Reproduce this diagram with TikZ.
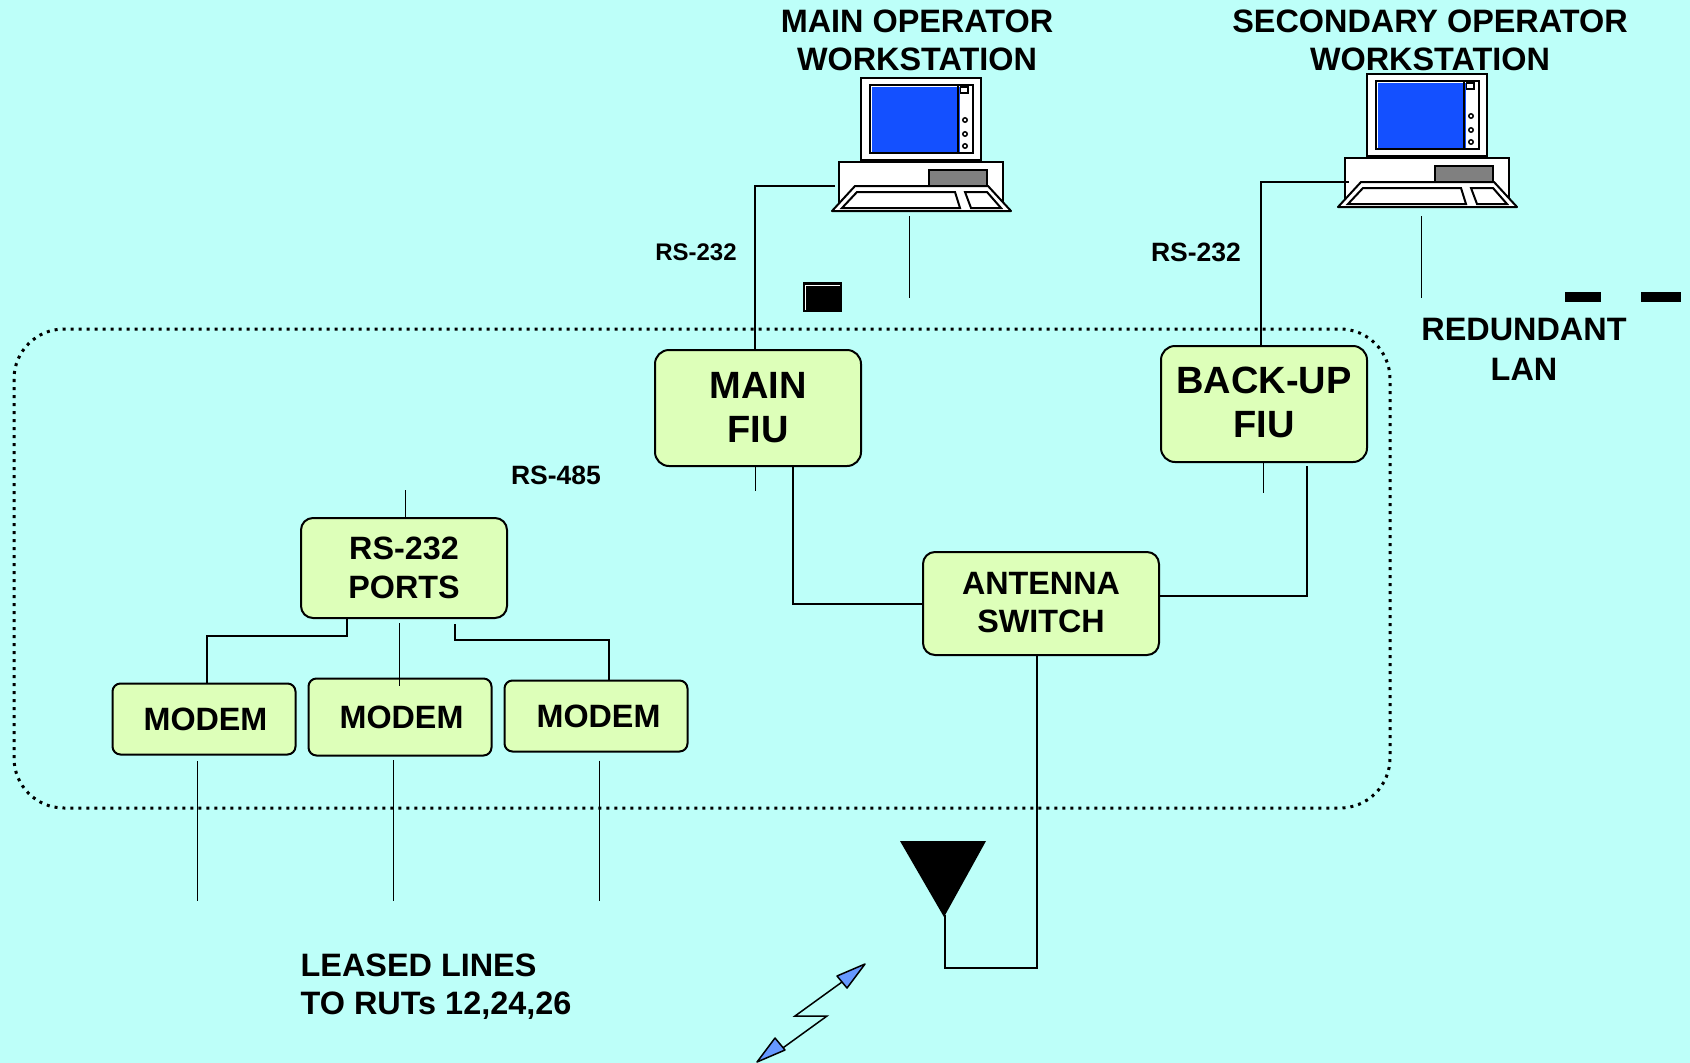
\documentclass[tikz,border=0pt]{standalone}
\usepackage{fontspec}
\setmainfont{Liberation Sans}

\definecolor{pagecol}{HTML}{BDFFF9}
\definecolor{boxcol}{HTML}{DDFFB9}
\definecolor{screencol}{HTML}{1450FF}
\definecolor{boltcol}{HTML}{6699FF}

\tikzset{
    bigbox/.style={draw, line width=2pt, fill=boxcol, rounded corners=14pt, align=center, inner sep=0pt,
        font=\fontsize{38}{44}\selectfont\bfseries},
    midbox/.style={draw, line width=2pt, fill=boxcol, rounded corners=12pt, align=center, inner sep=0pt,
        font=\fontsize{32.3}{38}\selectfont\bfseries},
    modembox/.style={midbox, rounded corners=8pt, minimum width=183pt},
    caption/.style={align=center, inner sep=0pt, font=\fontsize{32.4}{38}\selectfont\bfseries},
    portlabel/.style={inner sep=0pt, font=\fontsize{24}{28}\selectfont\bfseries},
    widelabel/.style={inner sep=0pt, font=\fontsize{26.5}{30}\selectfont\bfseries},
    link/.style={line width=2pt},
    stub/.style={line width=1pt},
    workstation/.pic={
        % Monitor
        \draw[line width=2pt, fill=white] (0,0) rectangle (120,82);
        \fill (8,6) rectangle (113,76);
        \fill[white] (10,8) rectangle (111,74);
        \fill[screencol] (11,9) rectangle (99,74);
        \fill (95.5,8) rectangle (97.5,74);
        \fill[white] (99,9) rectangle (110,74);
        \draw[line width=1.5pt] (99.5,9) rectangle (107,15);
        \draw[line width=1.5pt] (104,42) circle (2.2);
        \draw[line width=1.5pt] (104,56) circle (2.2);
        \draw[line width=1.5pt] (104,68) circle (2.2);
        % Base
        \draw[line width=2pt, fill=white] (-22,84) rectangle (142,133);
        \draw[line width=2pt, fill=gray] (68,92) rectangle (126,108);
        % Keyboard
        \draw[line width=2pt, fill=white, line join=round] (-6,108) -- (127,108) -- (150,133) -- (-29,133) -- cycle;
        \draw[line width=2pt] (-4,114) -- (94,114) -- (99,130) -- (-19,130) -- cycle;
        \draw[line width=2pt] (104,114) -- (126,114) -- (140,130) -- (110,130) -- cycle;
        % Connection points
        \coordinate (-port) at (-26,108);
        \coordinate (-lan) at (48,138);
    }
}

\begin{document}
\begin{tikzpicture}[x=1pt, y=-1pt]

    % Background
    \fill[pagecol] (0,0) rectangle (1690,1063);

    % Field enclosure
    \draw[line width=3pt, dash pattern=on 3pt off 5pt, rounded corners=50pt] (14,329) rectangle (1390,808);

    % Workstations
    \pic (mainws) at (861,78) {workstation};
    \pic (backws) at (1367,74) {workstation};
    \node[caption] (mainlabel) at (917,40) {MAIN OPERATOR\\WORKSTATION};
    \node[caption] (backlabel) at (1430,40) {SECONDARY OPERATOR\\WORKSTATION};

    % Boxes
    \node[bigbox, minimum width=206pt, minimum height=116pt] (mainfiu) at (758,408) {MAIN\\FIU};
    \node[bigbox, minimum width=206pt, minimum height=116pt, text depth=4pt] (backfiu) at (1264,404) {BACK-UP\\FIU};
    \node[midbox, minimum width=236pt, minimum height=103pt, text depth=3pt] (antswitch) at (1041,603.5) {ANTENNA\\SWITCH};
    \node[midbox, minimum width=206pt, minimum height=100pt, font=\fontsize{32.3}{39.5}\selectfont\bfseries] (ports) at (404,568) {RS-232\\PORTS};
    \node[modembox, minimum height=71pt] (modema) at (204,719) {\hspace*{3pt}MODEM};
    \node[modembox, minimum height=77pt] (modemb) at (400,717) {\hspace*{3pt}MODEM};
    \node[modembox, minimum height=71pt] (modemc) at (596,716) {\hspace*{5pt}MODEM};

    % Labels
    \node[portlabel] (rsmain) at (696,252) {RS-232};
    \node[widelabel] (rsback) at (1196,252) {RS-232};
    \node[widelabel] (rsbus) at (556,475) {RS-485};
    \node[caption, font=\fontsize{32.4}{40}\selectfont\bfseries] (lanlabel) at (1524,349) {REDUNDANT\\LAN};
    \node[caption, align=left] (leased) at (436,987) {LEASED LINES\\TO RUTs 12,24,26};

    % Black marker
    \node[fill=black, minimum width=39pt, minimum height=30pt, inner sep=0pt] (marker) at (822.5,297) {};
    \draw[white, line width=0.8pt] (805,310) -- (805,285) -- (840,285);

    % LAN dashes
    \fill (1565,292) rectangle (1601,302);
    \fill (1641,292) rectangle (1681,302);

    % Free ends
    \coordinate (lanmain) at (909,298);
    \coordinate (lanback) at (1421,298);
    \coordinate (busports) at (405,490);
    \coordinate (busmain) at (755.5,491);
    \coordinate (busback) at (1263,493);
    \coordinate (linea) at (197,901);
    \coordinate (lineb) at (393,901);
    \coordinate (linec) at (599,901);
    \coordinate (anttip) at (945,915);

    % Links
    \draw[link] (mainws-port) -| ([xshift=-3pt]mainfiu.north);
    \draw[link] ([xshift=8pt]backws-port) -| ([xshift=-3pt]backfiu.north);
    \draw[link] ([xshift=35pt]mainfiu.south) |- (antswitch.west);
    \draw[link] ([xshift=43pt, yshift=-3pt]backfiu.south) |- ([yshift=8pt]antswitch.east);
    \draw[link] ([xshift=-4pt]antswitch.south) |- (945,968) -- (anttip);
    \draw[link] ([xshift=-57pt]ports.south) |- (207,636) -- (207,683);
    \draw[stub] ([xshift=-5pt, yshift=-4pt]ports.south) -- (399,686);
    \draw[link] ([xshift=51pt, yshift=-5pt]ports.south) |- (609,640) -- (609,681);

    % Stubs
    \draw[stub] (mainws-lan) -- (lanmain);
    \draw[stub] ([xshift=6pt, yshift=-4pt]backws-lan) -- (lanback);
    \draw[stub] ([xshift=1pt]ports.north) -- (busports);
    \draw[stub] ([xshift=-2.5pt]mainfiu.south) -- (busmain);
    \draw[stub] ([xshift=-1pt]backfiu.south) -- (busback);
    \draw[stub] ([xshift=-7pt, yshift=-5.5pt]modema.south) -- (linea);
    \draw[stub] ([xshift=-7pt, yshift=-3.5pt]modemb.south) -- (lineb);
    \draw[stub] ([xshift=3pt, yshift=-8pt]modemc.south) -- (linec);

    % Antenna
    \fill (900,841) -- (986,841) -- (944,917) -- cycle;

    % Radio link
    \draw[link, line width=1.5pt] (842,982) -- (795,1016) -- (827,1016) -- (780,1050);
    \draw[line width=1.5pt, fill=boltcol, line join=round] (865,964) -- (837,976) -- (847,988) -- cycle;
    \draw[line width=1.5pt, fill=boltcol, line join=round] (757,1062) -- (775,1038) -- (785,1050) -- cycle;

\end{tikzpicture}
\end{document}
